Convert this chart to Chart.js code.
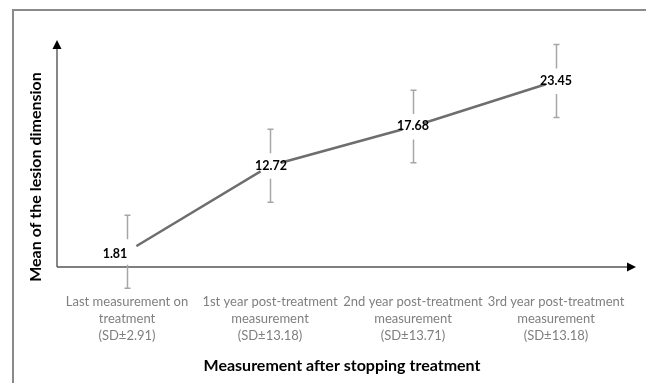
<!DOCTYPE html>
<html>
<head>
<meta charset="utf-8">
<script src="https://cdn.jsdelivr.net/npm/chart.js@4.4.1/dist/chart.umd.min.js"></script>
<style>
html,body{margin:0;padding:0;background:#fff;}
#wrap{position:relative;width:646px;height:383px;}
</style>
</head>
<body>
<div id="wrap"><canvas id="c" width="646" height="383"></canvas></div>
<script>
// Data
const categories = [
  ['Last measurement on', 'treatment', '(SD\u00B12.91)'],
  ['1st year post-treatment', 'measurement', '(SD\u00B113.18)'],
  ['2nd year post-treatment', 'measurement', '(SD\u00B113.71)'],
  ['3rd year post-treatment', 'measurement', '(SD\u00B113.18)']
];
const meanValues = [1.81, 12.72, 17.68, 23.45];
const errorBarHalf = [4.63, 4.63, 4.6, 4.63];
const xTitle = 'Measurement after stopping treatment';
const yTitle = 'Mean of the lesion dimension';

const FONT = 'Lato, "Open Sans", sans-serif';
const labelOffsets = [[-12, 2], [1, 0.5], [0, -1], [0, 0]];

const customDraw = {
  id: 'customDraw',
  beforeDatasetsDraw(chart) {
    const ctx = chart.ctx;
    const xs = chart.scales.x, ys = chart.scales.y;
    ctx.save();
    // border (top and left)
    ctx.strokeStyle = '#8a8a8a';
    ctx.lineWidth = 2;
    ctx.beginPath();
    ctx.moveTo(13, 383); ctx.lineTo(13, 10); ctx.lineTo(646, 10);
    ctx.stroke();
    // axes
    const x0 = 57, yAxisY = ys.getPixelForValue(0) + 1;
    ctx.strokeStyle = '#555';
    ctx.lineWidth = 1.4;
    ctx.beginPath();
    ctx.moveTo(x0, yAxisY); ctx.lineTo(x0, 46);
    ctx.moveTo(x0, yAxisY); ctx.lineTo(629, yAxisY);
    ctx.stroke();
    ctx.fillStyle = '#000';
    ctx.beginPath();
    ctx.moveTo(x0, 40); ctx.lineTo(x0 - 4.5, 49); ctx.lineTo(x0 + 4.5, 49); ctx.closePath();
    ctx.fill();
    ctx.beginPath();
    ctx.moveTo(636, yAxisY); ctx.lineTo(627, yAxisY - 4.5); ctx.lineTo(627, yAxisY + 4.5); ctx.closePath();
    ctx.fill();
    // error bars
    ctx.strokeStyle = '#a6a6a6';
    ctx.lineWidth = 1.5;
    meanValues.forEach((v, i) => {
      const px = Math.round(xs.getPixelForValue(i)) + 0.5;
      const top = ys.getPixelForValue(v + errorBarHalf[i]);
      const bot = ys.getPixelForValue(v - errorBarHalf[i]);
      const c = ys.getPixelForValue(v);
      ctx.beginPath();
      ctx.moveTo(px, top); ctx.lineTo(px, c - 12.5);
      ctx.moveTo(px, c + 13); ctx.lineTo(px, bot);
      ctx.moveTo(px - 3, top); ctx.lineTo(px + 3, top);
      ctx.moveTo(px - 3, bot); ctx.lineTo(px + 3, bot);
      ctx.stroke();
    });
    ctx.restore();
  },
  afterDatasetsDraw(chart) {
    const ctx = chart.ctx;
    const xs = chart.scales.x, ys = chart.scales.y;
    ctx.save();
    // data labels
    ctx.font = 'bold 12.5px ' + FONT;
    ctx.fillStyle = '#000';
    ctx.textAlign = 'center';
    ctx.textBaseline = 'middle';
    meanValues.forEach((v, i) => {
      const px = xs.getPixelForValue(i) + labelOffsets[i][0];
      const py = ys.getPixelForValue(v) + labelOffsets[i][1];
      ctx.fillText(v.toFixed(2), px, py);
    });
    // category labels
    ctx.font = '13px ' + FONT;
    ctx.fillStyle = '#7f7f7f';
    categories.forEach((lines, i) => {
      const px = xs.getPixelForValue(i);
      lines.forEach((t, j) => ctx.fillText(t, px, 302 + j * 16.8));
    });
    // axis titles
    ctx.font = 'bold 16px ' + FONT;
    ctx.fillStyle = '#000';
    ctx.fillText(xTitle, 342, 366);
    ctx.translate(36, 177);
    ctx.rotate(-Math.PI / 2);
    ctx.fillText(yTitle, 0, 0);
    ctx.restore();
  }
};

new Chart(document.getElementById('c'), {
  type: 'line',
  data: {
    labels: categories,
    datasets: [{
      data: meanValues,
      borderColor: '#6e6e6e',
      borderWidth: 2.5,
      pointRadius: 11,
      pointBackgroundColor: '#ffffff',
      pointBorderWidth: 0,
      pointBorderColor: 'rgba(0,0,0,0)',
      tension: 0
    }]
  },
  options: {
    responsive: false,
    animation: false,
    events: [],
    layout: { padding: { left: 55.5, right: 18.5, top: 42, bottom: 117 } },
    plugins: { legend: { display: false }, tooltip: { enabled: false } },
    scales: {
      x: { display: false, offset: true },
      y: { display: false, min: 0, max: 28.4 }
    }
  },
  plugins: [customDraw]
});
</script>
</body>
</html>
